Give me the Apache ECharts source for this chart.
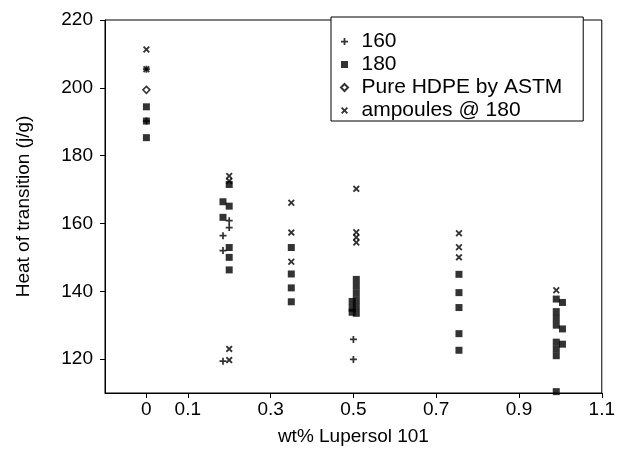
<!DOCTYPE html>
<html><head><meta charset="utf-8">
<script src="https://cdn.jsdelivr.net/npm/echarts@6/dist/echarts.min.js"></script>
<style>html,body{margin:0;padding:0;background:#fff}#c{width:618px;height:457px}</style>
</head><body><div id="c"></div>
<script>
// ---- data ----
const yTicks = [120, 140, 160, 180, 200, 220];
const xTicks = [0, 0.1, 0.3, 0.5, 0.7, 0.9, 1.1];
const seriesNames = ['160', '180', 'Pure HDPE by ASTM', 'ampoules @ 180'];

const data160 = [
  [0, 205.5], [0, 190.2],
  [0.2, 160.8], [0.2, 158.8],
  [0.185, 156.4], [0.185, 152.0], [0.185, 119.4],
  [0.5, 125.8], [0.5, 119.9]
];
const data180 = [
  [0, 194.4], [0, 190.2], [0, 185.3],
  [0.185, 166.4], [0.185, 161.8],
  [0.2, 171.5], [0.2, 165.1], [0.2, 152.9], [0.2, 150.0], [0.2, 146.3],
  [0.35, 152.9], [0.35, 145.1], [0.35, 141.0], [0.35, 136.9],
  [0.507, 143.5], [0.507, 141.5], [0.507, 139.5], [0.507, 137.5], [0.507, 135.5], [0.507, 133.5],
  [0.497, 137.0], [0.497, 135.0], [0.497, 133.8],
  [0.755, 145.0], [0.755, 139.6], [0.755, 135.2], [0.755, 127.5], [0.755, 122.6],
  [0.99, 137.7], [0.99, 134.0], [0.99, 132.0], [0.99, 130.0], [0.99, 125.0], [0.99, 123.0], [0.99, 121.0], [0.99, 110.4],
  [1.005, 136.7], [1.005, 128.9], [1.005, 124.4]
];
const dataHDPE = [
  [0, 199.4]
];
const dataAmpoules = [
  [0, 211.3], [0, 205.5],
  [0.2, 174.0], [0.2, 172.5], [0.2, 123.0], [0.2, 119.7],
  [0.35, 166.1], [0.35, 157.3], [0.35, 148.7],
  [0.507, 170.2], [0.507, 157.4], [0.507, 155.9], [0.507, 154.4],
  [0.755, 157.1], [0.755, 153.0], [0.755, 150.0],
  [0.99, 140.3]
];

// ---- chart ----
const FONT = '"Liberation Sans", Arial, Helvetica, sans-serif';
const PLUS = 'path://M3,0H5V3H8V5H5V8H3V5H0V3H3Z';
const CROSS = 'path://M0,1.5L1.5,0L4,2.5L6.5,0L8,1.5L5.5,4L8,6.5L6.5,8L4,5.5L1.5,8L0,6.5L2.5,4Z';
const SQUARE = 'path://M0,0H8V8H0Z';
const DIAMOND = 'path://M4,0L8,4L4,8L0,4Z';
const black = '#000';
const chart = echarts.init(document.getElementById('c'), null, {renderer: 'canvas'});
const axisText = {color: black, fontFamily: FONT, fontSize: 19};

chart.setOption({
  animation: false,
  backgroundColor: '#fff',
  grid: {left: 105, right: 11, top: 20, bottom: 64, show: true, borderColor: black, borderWidth: 1},
  xAxis: {
    type: 'value', min: -0.1, max: 1.1, interval: 0.1,
    splitLine: {show: false},
    axisLine: {onZero: false, lineStyle: {color: black, width: 1}},
    axisTick: {customValues: xTicks, length: 5, lineStyle: {color: black}},
    axisLabel: Object.assign({customValues: xTicks, margin: 7, formatter: v => String(Math.round(v * 10) / 10)}, axisText),
    name: 'wt% Lupersol 101', nameLocation: 'middle', nameGap: 34,
    nameTextStyle: axisText
  },
  yAxis: {
    type: 'value', min: 110, max: 220, interval: 10,
    splitLine: {show: false},
    axisLine: {onZero: false, lineStyle: {color: black, width: 1}},
    axisTick: {customValues: yTicks, length: 5, lineStyle: {color: black}},
    axisLabel: Object.assign({customValues: yTicks, margin: 12}, axisText),
    name: 'Heat of transition (j/g)', nameLocation: 'middle', nameGap: 72,
    nameTextStyle: axisText
  },
  legend: {
    orient: 'vertical', left: 331, top: 17,
    padding: [14, 21, 0, 9],
    itemWidth: 24, itemHeight: 7, itemGap: 2,
    borderColor: black, borderWidth: 1, backgroundColor: '#fff',
    textStyle: {color: black, fontFamily: FONT, fontSize: 21},
    data: seriesNames
  },
  series: [
    {name: seriesNames[0], type: 'scatter', data: data160, symbol: PLUS, symbolSize: 7,
     itemStyle: {color: black}},
    {name: seriesNames[1], type: 'scatter', data: data180, symbol: SQUARE, symbolSize: 7,
     itemStyle: {color: black}},
    {name: seriesNames[2], type: 'scatter', data: dataHDPE, symbol: DIAMOND, symbolSize: 7,
     itemStyle: {color: '#fff', borderColor: black, borderWidth: 1.5}},
    {name: seriesNames[3], type: 'scatter', data: dataAmpoules, symbol: CROSS, symbolSize: 7,
     itemStyle: {color: black}}
  ]
});
</script></body></html>
